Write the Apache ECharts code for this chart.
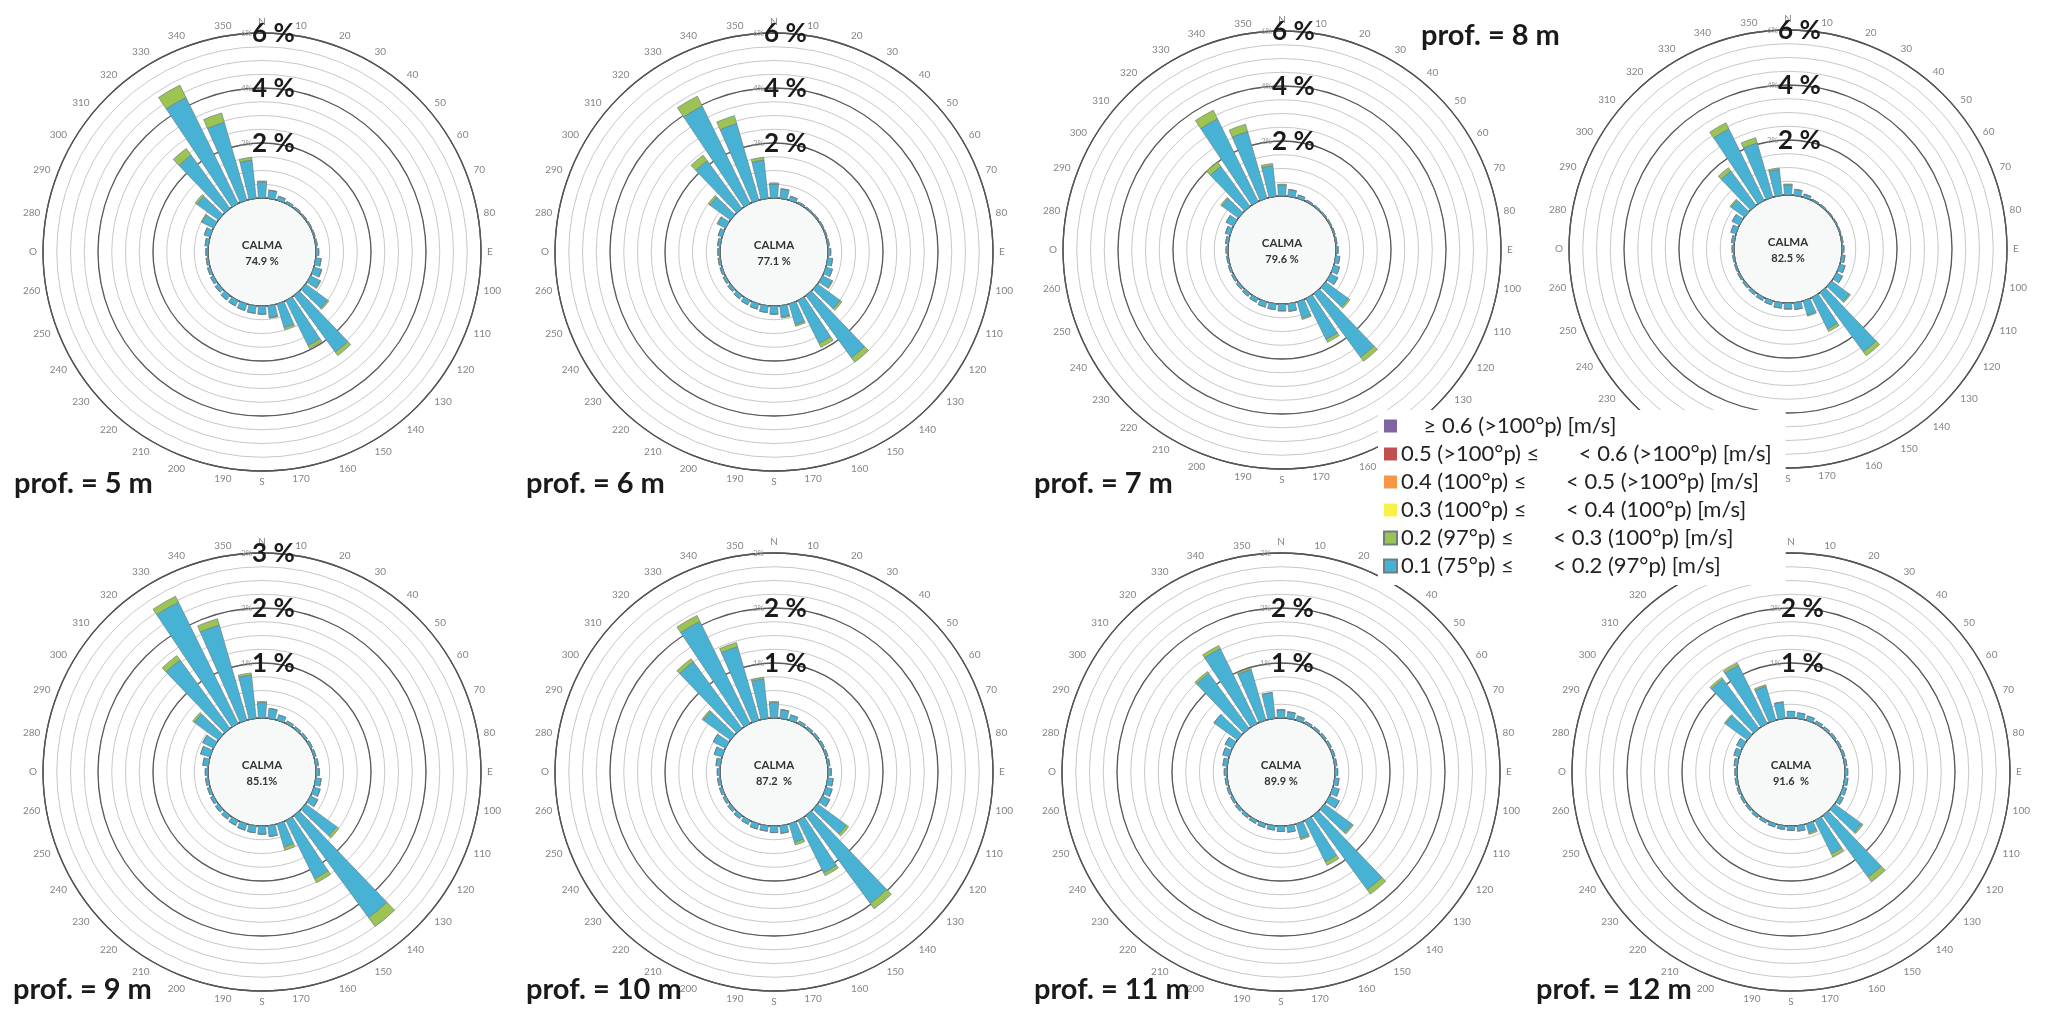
<!DOCTYPE html>
<html>
<head>
<meta charset="utf-8">
<script src="https://cdn.jsdelivr.net/npm/echarts/dist/echarts.min.js"></script>
<style>
  html, body { margin: 0; padding: 0; background: #ffffff; }
  #chart { width: 2045px; height: 1013px; }
</style>
</head>
<body>
<div id="chart"></div>
<script>
// Direction sectors (degrees from north, clockwise)
const directions = ['0','10','20','30','40','50','60','70','80','90','100','110','120','130','140','150','160','170',
                    '180','190','200','210','220','230','240','250','260','270','280','290','300','310','320','330','340','350'];
const cardinalNames = { '0': 'N', '90': 'E', '180': 'S', '270': 'O' };

const depthLabels = ['prof. = 5 m', 'prof. = 6 m', 'prof. = 7 m', 'prof. = 8 m',
                     'prof. = 9 m', 'prof. = 10 m', 'prof. = 11 m', 'prof. = 12 m'];
const calmLabels = ['74.9 %', '77.1 %', '79.6 %', '82.5 %', '85.1%', '87.2  %', '89.9 %', '91.6  %'];
const ringMax = [6, 6, 6, 6, 3, 3, 3, 3];
const ringStep = [0.5, 0.5, 0.5, 0.5, 0.25, 0.25, 0.25, 0.25];
const ringMajor = [2, 2, 2, 2, 1, 1, 1, 1];
// rings that carry the large percentage caption
const ringCaptions = [[2, 4, 6], [2, 4, 6], [2, 4, 6], [2, 4, 6], [1, 2, 3], [1, 2], [1, 2], [1, 2]];

const classNames = [
  '    \u2265 0.6 (>100\u00B0p) [m/s]',
  '0.5 (>100\u00B0p) \u2264       < 0.6 (>100\u00B0p) [m/s]',
  '0.4 (100\u00B0p) \u2264       < 0.5 (>100\u00B0p) [m/s]',
  '0.3 (100\u00B0p) \u2264       < 0.4 (100\u00B0p) [m/s]',
  '0.2 (97\u00B0p) \u2264       < 0.3 (100\u00B0p) [m/s]',
  '0.1 (75\u00B0p) \u2264       < 0.2 (97\u00B0p) [m/s]'
];
const classColors = ['#8064a2', '#c0504d', '#f79646', '#f6f24a', '#9cc452', '#48b2d5'];

// Frequency (%) per direction, speed class 0.1-0.2 m/s
const blue5  = [0.58,0.30,0.15,0.08,0.06,0.05,0.05,0.05,0.06,0.10,0.20,0.30,0.39,0.99,2.55,1.83,0.90,0.43,
                0.30,0.28,0.25,0.22,0.20,0.15,0.12,0.10,0.08,0.08,0.12,0.22,0.46,0.97,2.40,4.30,2.95,1.40];
const blue6  = [0.51,0.35,0.15,0.06,0.05,0.05,0.05,0.05,0.06,0.10,0.18,0.25,0.39,1.02,2.80,1.75,0.79,0.41,
                0.30,0.25,0.20,0.18,0.15,0.12,0.10,0.08,0.08,0.08,0.10,0.15,0.32,0.92,2.15,3.95,2.90,1.40];
const blue7  = [0.40,0.25,0.12,0.06,0.05,0.05,0.05,0.05,0.05,0.08,0.15,0.22,0.30,1.03,2.87,1.66,0.62,0.28,
                0.25,0.22,0.20,0.15,0.12,0.10,0.08,0.07,0.06,0.07,0.10,0.18,0.30,0.74,1.80,3.35,2.52,1.12];
const blue8  = [0.37,0.22,0.12,0.05,0.05,0.04,0.04,0.04,0.05,0.07,0.12,0.20,0.25,0.80,2.67,1.28,0.54,0.25,
                0.22,0.20,0.15,0.12,0.10,0.08,0.07,0.06,0.06,0.07,0.10,0.20,0.30,0.60,1.55,2.90,2.05,0.94];
const blue9  = [0.28,0.18,0.10,0.05,0.04,0.04,0.04,0.04,0.05,0.06,0.10,0.12,0.15,0.70,2.30,1.18,0.44,0.20,
                0.15,0.13,0.12,0.10,0.08,0.07,0.06,0.05,0.05,0.05,0.10,0.18,0.22,0.54,1.54,2.46,1.80,0.79];
const blue10 = [0.28,0.16,0.10,0.05,0.04,0.04,0.04,0.04,0.04,0.06,0.10,0.12,0.15,0.65,1.98,1.06,0.35,0.14,
                0.12,0.10,0.10,0.08,0.07,0.06,0.05,0.05,0.05,0.05,0.08,0.15,0.25,0.61,1.50,2.07,1.39,0.72];
const blue11 = [0.15,0.12,0.08,0.04,0.04,0.04,0.04,0.04,0.04,0.05,0.08,0.12,0.20,0.62,1.67,0.84,0.27,0.12,
                0.10,0.08,0.07,0.06,0.05,0.05,0.04,0.04,0.04,0.05,0.08,0.12,0.15,0.53,1.24,1.52,0.96,0.47];
const blue12 = [0.12,0.10,0.08,0.05,0.04,0.04,0.04,0.04,0.04,0.05,0.06,0.07,0.08,0.61,1.39,0.68,0.17,0.10,
                0.08,0.07,0.06,0.05,0.05,0.04,0.04,0.04,0.04,0.04,0.06,0.10,0.12,0.50,1.11,1.18,0.64,0.30];

// Frequency (%) per direction, speed class 0.2-0.3 m/s
const green5  = [0.04,0,0,0,0,0,0,0,0,0,0,0,0.03,0.06,0.15,0.12,0.08,0.03,
                 0,0,0,0,0,0,0,0,0,0,0,0,0.04,0.08,0.30,0.50,0.35,0.10];
const green6  = [0.04,0,0,0,0,0,0,0,0,0,0,0,0.03,0.08,0.20,0.15,0.06,0.04,
                 0,0,0,0,0,0,0,0,0,0,0,0,0.03,0.08,0.25,0.40,0.30,0.10];
const green7  = [0.03,0,0,0,0,0,0,0,0,0,0,0,0,0.07,0.18,0.12,0.05,0,
                 0,0,0,0,0,0,0,0,0,0,0,0,0,0.06,0.20,0.35,0.28,0.08];
const green8  = [0.03,0,0,0,0,0,0,0,0,0,0,0,0,0.05,0.18,0.10,0.04,0,
                 0,0,0,0,0,0,0,0,0,0,0,0,0,0.05,0.15,0.25,0.20,0.06];
const green9  = [0.02,0,0,0,0,0,0,0,0,0,0,0,0,0.05,0.20,0.08,0.06,0,
                 0,0,0,0,0,0,0,0,0,0,0,0,0,0.04,0.10,0.12,0.12,0.04];
const green10 = [0.02,0,0,0,0,0,0,0,0,0,0,0,0,0.05,0.12,0.06,0.05,0,
                 0,0,0,0,0,0,0,0,0,0,0,0,0,0.03,0.07,0.12,0.08,0.03];
const green11 = [0,0,0,0,0,0,0,0,0,0,0,0,0,0.03,0.10,0.07,0.03,0,
                 0,0,0,0,0,0,0,0,0,0,0,0,0,0,0.04,0.06,0.03,0];
const green12 = [0,0,0,0,0,0,0,0,0,0,0,0,0,0.03,0.10,0.06,0.03,0,
                 0,0,0,0,0,0,0,0,0,0,0,0,0,0.02,0.04,0.05,0.03,0];

const blueByDepth  = [blue5, blue6, blue7, blue8, blue9, blue10, blue11, blue12];
const greenByDepth = [green5, green6, green7, green8, green9, green10, green11, green12];

// ---- layout of the 2 x 4 panel grid ----
const centers = [[262, 252], [774, 252], [1282, 250], [1788, 249],
                 [262, 772], [774, 772], [1281, 772], [1791, 772]];
const depthLabelPos = [[14, 484], [526, 484], [1034, 484], [1421, 36],
                       [13, 990], [526, 990], [1034, 990], [1536, 990]];
const R_IN = 54, R_OUT = 219;
const FONT = 'Lato, "Open Sans", sans-serif';

const polar = [], angleAxis = [], radiusAxis = [], series = [];

centers.forEach(function (c, k) {
  const pData = 2 * k, pRing = 2 * k + 1;
  polar.push({ center: [c[0], c[1]], radius: [R_IN, R_OUT] });
  polar.push({ center: [c[0], c[1]], radius: [R_IN, R_OUT] });

  angleAxis.push({
    polarIndex: pData, type: 'category', data: directions, startAngle: 95, clockwise: true,
    boundaryGap: true,
    axisLine: { show: false }, axisTick: { show: false }, splitLine: { show: false },
    axisLabel: {
      interval: 0, margin: 6, fontSize: 10, color: '#858585', fontFamily: FONT,
      formatter: function (v) { return cardinalNames[v] || v; }
    }
  });
  angleAxis.push({
    polarIndex: pRing, type: 'value', min: 0, max: 360, startAngle: 90,
    axisLine: { show: true, lineStyle: { color: '#555', width: 1.3 } },
    axisTick: { show: false }, axisLabel: { show: false }, splitLine: { show: false }
  });

  radiusAxis.push({
    polarIndex: pData, type: 'value', min: 0, max: ringMax[k], interval: ringStep[k],
    axisLine: { show: false }, axisTick: { show: false }, axisLabel: { show: false },
    splitLine: { show: true, lineStyle: { color: '#c8c8c8', width: 1 } }
  });
  radiusAxis.push({
    polarIndex: pRing, type: 'value', min: 0, max: ringMax[k], interval: ringMajor[k],
    axisLine: { show: false }, axisTick: { show: false }, axisLabel: { show: false },
    splitLine: { show: true, lineStyle: { color: '#5a5a5a', width: 1.3 } }
  });

  series.push({
    name: classNames[5], type: 'bar', coordinateSystem: 'polar', polarIndex: pData,
    stack: 'rose' + k, data: blueByDepth[k], barCategoryGap: '24%',
    itemStyle: { color: classColors[5], borderColor: '#6d7f86', borderWidth: 0.7 },
    silent: true
  });
  series.push({
    name: classNames[4], type: 'bar', coordinateSystem: 'polar', polarIndex: pData,
    stack: 'rose' + k, data: greenByDepth[k], barCategoryGap: '24%',
    itemStyle: { color: classColors[4], borderColor: '#6d7f86', borderWidth: 0.7 },
    silent: true
  });
});

// the higher speed classes carry no frequency at these depths; kept for the legend
[0, 1, 2, 3].forEach(function (i) {
  series.push({
    name: classNames[i], type: 'bar', coordinateSystem: 'polar', polarIndex: 0,
    stack: 'rose0', data: [], itemStyle: { color: classColors[i] }
  });
});

const option = {
  backgroundColor: '#ffffff',
  animation: false,
  polar: polar,
  angleAxis: angleAxis,
  radiusAxis: radiusAxis,
  legend: {
    data: classNames.slice(),
    orient: 'vertical', left: 1378, top: 410,
    itemWidth: 13, itemHeight: 13, itemGap: 6, icon: 'rect',
    backgroundColor: '#ffffff', padding: [5, 14, 8, 5],
    selectedMode: false, z: 20,
    textStyle: { fontSize: 22, color: '#222', fontFamily: FONT, padding: [0, 0, 0, -1] }
  },
  series: series
};

const chart = echarts.init(document.getElementById('chart'), null, { renderer: 'canvas' });
chart.setOption(option);

// centre discs, calm percentage, depth titles and ring percentages
const graphics = [];
centers.forEach(function (c, k) {
  const cx = c[0], cy = c[1];
  graphics.push({
    type: 'circle', silent: true, z: 1,
    shape: { cx: cx, cy: cy, r: R_IN - 1.2 },
    style: { fill: '#f7f8f8' }
  });
  graphics.push({
    type: 'text', silent: true, z: 2, x: cx, y: cy - 7,
    style: { text: 'CALMA', fill: '#333', fontSize: 11.5, fontWeight: 'bold', fontFamily: FONT,
             align: 'center', verticalAlign: 'middle', textAlign: 'center', textVerticalAlign: 'middle' }
  });
  graphics.push({
    type: 'text', silent: true, z: 2, x: cx, y: cy + 9,
    style: { text: calmLabels[k], fill: '#333', fontSize: 11, fontWeight: 'bold', fontFamily: FONT,
             align: 'center', verticalAlign: 'middle', textAlign: 'center', textVerticalAlign: 'middle' }
  });
  graphics.push({
    type: 'text', silent: true, z: 30, x: depthLabelPos[k][0], y: depthLabelPos[k][1],
    style: { text: depthLabels[k], fill: '#1a1a1a', fontSize: 29, fontWeight: 'bold', fontFamily: FONT,
             align: 'left', verticalAlign: 'middle', textAlign: 'left', textVerticalAlign: 'middle' }
  });
  for (let v = ringMajor[k]; v <= ringMax[k] + 1e-9; v += ringMajor[k]) {
    const p = chart.convertToPixel({ polarIndex: 2 * k + 1 }, [v, 0]);
    if (!p) continue;
    graphics.push({
      type: 'text', silent: true, z: 3, x: p[0] - 10, y: p[1],
      style: { text: v + '%', fill: '#9a9a9a', fontSize: 8, fontFamily: FONT,
               align: 'right', verticalAlign: 'middle', textAlign: 'right', textVerticalAlign: 'middle' }
    });
    if (ringCaptions[k].indexOf(v) >= 0) {
      graphics.push({
        type: 'text', silent: true, z: 3, x: p[0] - 10, y: p[1] + 1,
        style: { text: v + ' %', fill: '#1a1a1a', fontSize: 26, fontWeight: 'bold', fontFamily: FONT,
                 align: 'left', verticalAlign: 'middle', textAlign: 'left', textVerticalAlign: 'middle' }
      });
    }
  }
});
chart.setOption({ graphic: { elements: graphics } });
</script>
</body>
</html>
